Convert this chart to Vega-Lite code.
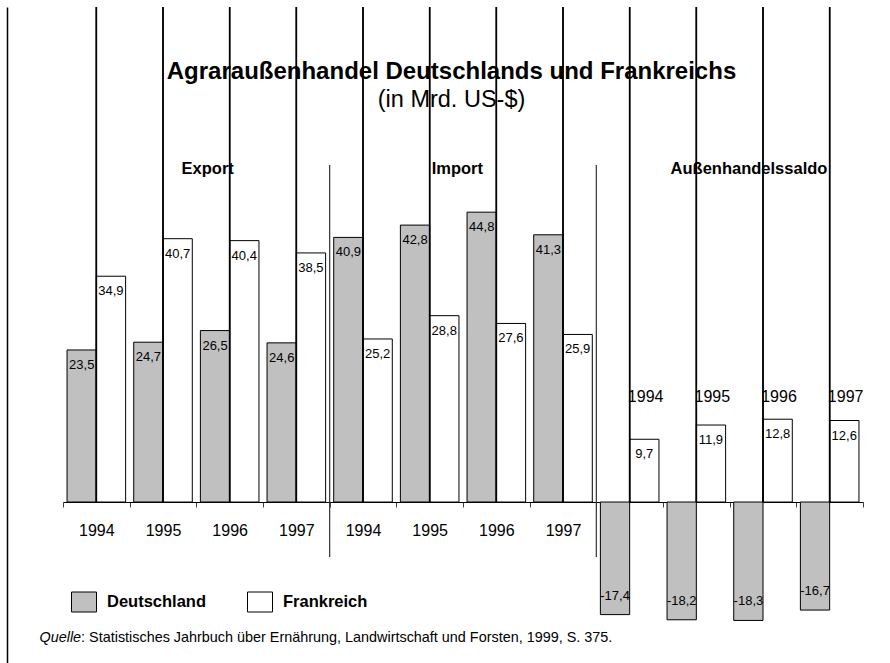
{
  "$schema": "https://vega.github.io/schema/vega-lite/v6.json",
  "width": 883,
  "height": 656,
  "autosize": {"type": "none"},
  "padding": {"left": 7, "top": 7, "right": 0, "bottom": 0},
  "background": "white",
  "config": {
    "font": "Liberation Sans",
    "view": {"stroke": null},
    "locale": {"number": {"decimal": ",", "thousands": ".", "grouping": [3], "currency": ["", " $"], "minus": "-"}}
  },
  "title": {
    "text": "Agraraußenhandel Deutschlands und Frankreichs",
    "subtitle": "(in Mrd. US-$)",
    "frame": "group",
    "anchor": "middle",
    "offset": -105,
    "dx": 3,
    "fontSize": 24,
    "fontWeight": "bold",
    "color": "black",
    "subtitleFontSize": 23.5,
    "subtitleColor": "black",
    "subtitlePadding": 4
  },
  "data": {"values": [
      {"group": "Export 1994", "section": "Export", "year": "1994", "land": "Deutschland", "value": 23.5},
      {"group": "Export 1994", "section": "Export", "year": "1994", "land": "Frankreich", "value": 34.9},
      {"group": "Export 1995", "section": "Export", "year": "1995", "land": "Deutschland", "value": 24.7},
      {"group": "Export 1995", "section": "Export", "year": "1995", "land": "Frankreich", "value": 40.7},
      {"group": "Export 1996", "section": "Export", "year": "1996", "land": "Deutschland", "value": 26.5},
      {"group": "Export 1996", "section": "Export", "year": "1996", "land": "Frankreich", "value": 40.4},
      {"group": "Export 1997", "section": "Export", "year": "1997", "land": "Deutschland", "value": 24.6},
      {"group": "Export 1997", "section": "Export", "year": "1997", "land": "Frankreich", "value": 38.5},
      {"group": "Import 1994", "section": "Import", "year": "1994", "land": "Deutschland", "value": 40.9},
      {"group": "Import 1994", "section": "Import", "year": "1994", "land": "Frankreich", "value": 25.2},
      {"group": "Import 1995", "section": "Import", "year": "1995", "land": "Deutschland", "value": 42.8},
      {"group": "Import 1995", "section": "Import", "year": "1995", "land": "Frankreich", "value": 28.8},
      {"group": "Import 1996", "section": "Import", "year": "1996", "land": "Deutschland", "value": 44.8},
      {"group": "Import 1996", "section": "Import", "year": "1996", "land": "Frankreich", "value": 27.6},
      {"group": "Import 1997", "section": "Import", "year": "1997", "land": "Deutschland", "value": 41.3},
      {"group": "Import 1997", "section": "Import", "year": "1997", "land": "Frankreich", "value": 25.9},
      {"group": "Außenhandelssaldo 1994", "section": "Außenhandelssaldo", "year": "1994", "land": "Deutschland", "value": -17.4},
      {"group": "Außenhandelssaldo 1994", "section": "Außenhandelssaldo", "year": "1994", "land": "Frankreich", "value": 9.7},
      {"group": "Außenhandelssaldo 1995", "section": "Außenhandelssaldo", "year": "1995", "land": "Deutschland", "value": -18.2},
      {"group": "Außenhandelssaldo 1995", "section": "Außenhandelssaldo", "year": "1995", "land": "Frankreich", "value": 11.9},
      {"group": "Außenhandelssaldo 1996", "section": "Außenhandelssaldo", "year": "1996", "land": "Deutschland", "value": -18.3},
      {"group": "Außenhandelssaldo 1996", "section": "Außenhandelssaldo", "year": "1996", "land": "Frankreich", "value": 12.8},
      {"group": "Außenhandelssaldo 1997", "section": "Außenhandelssaldo", "year": "1997", "land": "Deutschland", "value": -16.7},
      {"group": "Außenhandelssaldo 1997", "section": "Außenhandelssaldo", "year": "1997", "land": "Frankreich", "value": 12.6}
  ]},
  "encoding": {
    "x": {
      "field": "group", "type": "nominal", "sort": null,
      "scale": {"range": [56, 856], "paddingInner": 0, "paddingOuter": 0},
      "axis": {
        "orient": "bottom",
        "offset": -161,
        "domainColor": "black",
        "domainWidth": 1,
        "tickBand": "extent",
        "tickSize": 5,
        "tickColor": "#444444",
        "labelFontSize": 16,
        "labelPadding": 15,
        "labelColor": "black",
        "labelAngle": 0,
        "labelOverlap": false,
        "labelExpr": "isString(datum.value) ? (indexof(datum.value, 'saldo') >= 0 ? '' : slice(datum.value, -4)) : ''",
        "title": ": Statistisches Jahrbuch über Ernährung, Landwirtschaft und Forsten, 1999, S. 375.",
        "titleX": 73.6,
        "titleY": 139,
        "titleAlign": "left",
        "titleBaseline": "alphabetic",
        "titleFontSize": 14.4,
        "titleFontWeight": "normal",
        "titleColor": "black"
      }
    }
  },
  "layer": [
    {
      "mark": {"type": "bar", "stroke": "black", "strokeWidth": 1},
      "encoding": {
        "xOffset": {
          "field": "land", "type": "nominal",
          "scale": {"paddingInner": 0, "paddingOuter": 0.138}
        },
        "y": {
          "field": "value", "type": "quantitative",
          "scale": {"domain": [-24.88, 76.51], "nice": false},
          "axis": {
            "domainColor": "black",
            "domainWidth": 1.5,
            "ticks": false,
            "labels": false,
            "grid": false,
            "title": "Quelle",
            "titleAngle": 0,
            "titleAlign": "left",
            "titleBaseline": "alphabetic",
            "titleX": 32,
            "titleY": 634,
            "titleFontSize": 14.4,
            "titleFontStyle": "italic",
            "titleFontWeight": "normal",
            "titleColor": "black"
          }
        },
        "fill": {
          "field": "land", "type": "nominal",
          "scale": {"range": ["#c0c0c0", "#ffffff"]},
          "legend": {
            "title": null,
            "orient": "none",
            "legendX": 64,
            "legendY": 582,
            "direction": "horizontal",
            "symbolType": "M-1,-0.8H1V0.8H-1Z",
            "symbolSize": 625,
            "symbolStrokeColor": "black",
            "symbolStrokeWidth": 1,
            "labelFontSize": 16.5,
            "labelFontWeight": "bold",
            "labelColor": "black",
            "labelOffset": 10,
            "columnPadding": 38
          }
        }
      }
    },
    {
      "mark": {"type": "rule", "color": "black", "strokeWidth": 1.5},
      "encoding": {
        "y": {"datum": 76.51, "type": "quantitative"}
      }
    },
    {
      "transform": [{"filter": "datum.value > 0 && datum.land == 'Deutschland'"}],
      "mark": {"type": "text", "baseline": "middle", "dy": 15, "dx": -14.6, "fontSize": 13, "color": "black"},
      "encoding": {
        "y": {"field": "value", "type": "quantitative"},
        "text": {"field": "value", "type": "quantitative", "format": ".1f"}
      }
    },
    {
      "transform": [{"filter": "datum.value > 0 && datum.land == 'Frankreich'"}],
      "mark": {"type": "text", "baseline": "middle", "dy": 15, "dx": 14.6, "fontSize": 13, "color": "black"},
      "encoding": {
        "y": {"field": "value", "type": "quantitative"},
        "text": {"field": "value", "type": "quantitative", "format": ".1f"}
      }
    },
    {
      "transform": [{"filter": "datum.value < 0"}],
      "mark": {"type": "text", "baseline": "middle", "dy": -19, "dx": -14.6, "fontSize": 13, "color": "black"},
      "encoding": {
        "y": {"field": "value", "type": "quantitative"},
        "text": {"field": "value", "type": "quantitative", "format": ".1f"}
      }
    },
    {
      "transform": [{"filter": "datum.section == 'Außenhandelssaldo' && datum.land == 'Frankreich'"}],
      "mark": {"type": "text", "baseline": "middle", "dx": 16, "fontSize": 16, "color": "black"},
      "encoding": {
        "y": {"datum": 16.27, "type": "quantitative"},
        "text": {"field": "year", "type": "nominal"}
      }
    },
    {
      "transform": [{"filter": "datum.group == 'Export 1996' && datum.land == 'Deutschland'"}],
      "mark": {"type": "text", "baseline": "middle", "fontSize": 16.5, "fontWeight": "bold", "dx": -22, "color": "black"},
      "encoding": {
        "y": {"datum": 51.4, "type": "quantitative"},
        "text": {"field": "section", "type": "nominal"}
      }
    },
    {
      "transform": [{"filter": "datum.group == 'Import 1996' && datum.land == 'Deutschland'"}],
      "mark": {"type": "text", "baseline": "middle", "fontSize": 16.5, "fontWeight": "bold", "dx": -39, "color": "black"},
      "encoding": {
        "y": {"datum": 51.4, "type": "quantitative"},
        "text": {"field": "section", "type": "nominal"}
      }
    },
    {
      "transform": [{"filter": "datum.group == 'Außenhandelssaldo 1996' && datum.land == 'Deutschland'"}],
      "mark": {"type": "text", "baseline": "middle", "fontSize": 16.5, "fontWeight": "bold", "dx": -14, "color": "black"},
      "encoding": {
        "y": {"datum": 51.4, "type": "quantitative"},
        "text": {"field": "section", "type": "nominal"}
      }
    },
    {
      "transform": [{"filter": "(datum.group == 'Import 1994' || datum.group == 'Außenhandelssaldo 1994') && datum.land == 'Deutschland'"}],
      "mark": {"type": "rule", "color": "#333333", "strokeWidth": 1.2},
      "encoding": {
        "x": {"field": "group", "type": "nominal", "bandPosition": 0},
        "y": {"datum": 52.1, "type": "quantitative"},
        "y2": {"datum": -8.5}
      }
    }
  ]
}
